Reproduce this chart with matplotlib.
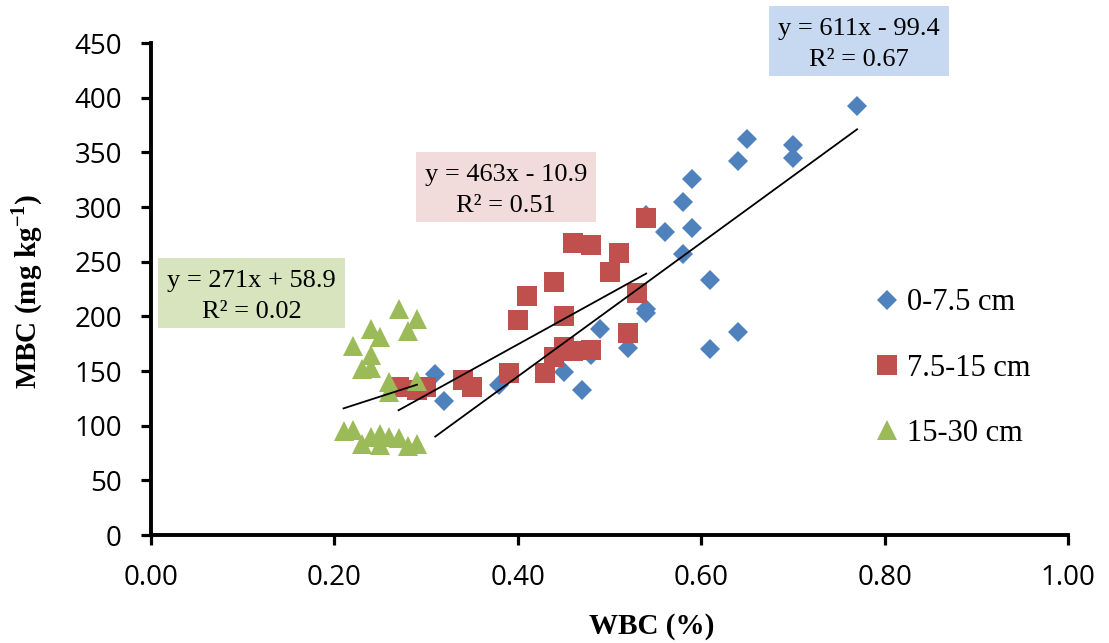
import matplotlib
matplotlib.use("Agg")
import matplotlib.pyplot as plt
from matplotlib.patches import Rectangle

# Soil depth classes
depths = ["0-7.5 cm", "7.5-15 cm", "15-30 cm"]

# WBC (%) and MBC (mg/kg) for 0-7.5 cm
wbc_top = [0.31, 0.32, 0.38, 0.45, 0.47, 0.48, 0.49, 0.52, 0.54, 0.54, 0.54, 0.56,
           0.58, 0.58, 0.59, 0.59, 0.61, 0.61, 0.64, 0.64, 0.65, 0.70, 0.70, 0.77]
mbc_top = [147, 123, 137, 149, 133, 165, 188, 171, 203, 207, 293, 277,
           257, 305, 326, 281, 233, 170, 186, 342, 362, 357, 345, 392]

# 7.5-15 cm
wbc_mid = [0.27, 0.29, 0.30, 0.34, 0.35, 0.39, 0.40, 0.41, 0.43, 0.44, 0.44,
           0.45, 0.45, 0.46, 0.46, 0.48, 0.48, 0.50, 0.51, 0.52, 0.53, 0.54]
mbc_mid = [135, 133, 135, 142, 135, 148, 197, 219, 148, 231, 163,
           200, 172, 267, 168, 265, 169, 241, 258, 185, 221, 290]

# 15-30 cm
wbc_low = [0.21, 0.22, 0.22, 0.23, 0.23, 0.24, 0.24, 0.24, 0.24, 0.25, 0.25,
           0.25, 0.26, 0.26, 0.26, 0.27, 0.27, 0.28, 0.28, 0.29, 0.29, 0.29]
mbc_low = [95, 96, 173, 83, 152, 90, 153, 165, 188, 92, 82,
           181, 90, 140, 131, 89, 207, 81, 187, 83, 141, 198]

# Linear fits (y = slope * x + intercept) and coefficients of determination
slopes = [611, 463, 271]
intercepts = [-99.4, -10.9, 58.9]
r_squared = [0.67, 0.51, 0.02]

x_ticks = [0.0, 0.2, 0.4, 0.6, 0.8, 1.0]
y_ticks = [0, 50, 100, 150, 200, 250, 300, 350, 400, 450]

series_x = [wbc_top, wbc_mid, wbc_low]
series_y = [mbc_top, mbc_mid, mbc_low]
colors = ["#4F81BD", "#C0504D", "#9BBB59"]
markers = ["D", "s", "^"]
msizes = [10.2, 14, 14]
box_colors = ["#C6D9F1", "#F2DCDB", "#D7E4BD"]

W, H = 1109, 643
fig = plt.figure(figsize=(W / 100, H / 100), dpi=100)
ax = fig.add_axes([151 / W, 1 - 535 / H, 917 / W, 492 / H])

serif = "Liberation Serif"
plt.rcParams["mathtext.fontset"] = "custom"
plt.rcParams["mathtext.rm"] = serif
plt.rcParams["mathtext.bf"] = serif + ":bold"

handles = []
for xs, ys, c, m, ms, lab in zip(series_x, series_y, colors, markers, msizes, depths):
    h, = ax.plot(xs, ys, linestyle="none", marker=m, markersize=ms,
                 color=c, markeredgewidth=0, label=lab, zorder=3, clip_on=False)
    handles.append(h)

# Trend lines over each series' range
for xs, k, b in zip(series_x, slopes, intercepts):
    x0, x1 = min(xs), max(xs)
    ax.plot([x0, x1], [k * x0 + b, k * x1 + b], color="black", lw=1.3, zorder=4)

ax.set_xlim(0, 1.0)
ax.set_ylim(0, 450)
ax.set_xticks(x_ticks)
ax.set_xticklabels([f"{v:.2f}" for v in x_ticks])
ax.set_yticks(y_ticks)
ax.set_yticklabels([str(v) for v in y_ticks])
for side in ("top", "right"):
    ax.spines[side].set_visible(False)
for side in ("left", "bottom"):
    ax.spines[side].set_linewidth(2.8)
ax.tick_params(axis="both", direction="out", length=7, width=2.3, pad=14,
               labelsize=20)
for lbl in ax.get_xticklabels() + ax.get_yticklabels():
    lbl.set_fontfamily("Open Sans")

# Axis titles
fig.text(652 / W, 1 - 626 / H, "WBC (%)", family=serif, weight="bold",
         fontsize=21, ha="center", va="center")
fig.text(27 / W, 1 - 291 / H, r"MBC (mg kg$^{\mathbf{-1}}$)", family=serif,
         weight="bold", fontsize=21, ha="center", va="center", rotation=90)

# Regression equation boxes (left, top, right, bottom in pixels)
boxes = [(769, 6, 949, 76), (416, 152, 596, 222), (158, 258, 345, 328)]
for (l, t, r, btm), fc, k, b, r2 in zip(boxes, box_colors, slopes, intercepts, r_squared):
    fig.patches.append(Rectangle((l / W, 1 - btm / H), (r - l) / W, (btm - t) / H,
                                 transform=fig.transFigure, facecolor=fc,
                                 edgecolor="none", zorder=5))
    sign = "+" if b >= 0 else "-"
    cx = (l + r) / 2 / W
    fig.text(cx, 1 - (t + 29) / H, f"y = {k:g}x {sign} {abs(b):g}", family=serif,
             fontsize=19, ha="center", va="baseline", zorder=6)
    fig.text(cx, 1 - (t + 60) / H, f"R\u00b2 = {r2:.2f}", family=serif,
             fontsize=19, ha="center", va="baseline", zorder=6)

leg = ax.legend(handles=handles, loc="center left",
                bbox_to_anchor=(872 / W, 1 - 368 / H), bbox_transform=fig.transFigure,
                frameon=False, prop={"family": serif, "size": 22}, numpoints=1,
                handlelength=1.0, handletextpad=0.15, borderpad=0, borderaxespad=0,
                labelspacing=1.18)

fig.savefig("out.png", dpi=100)
